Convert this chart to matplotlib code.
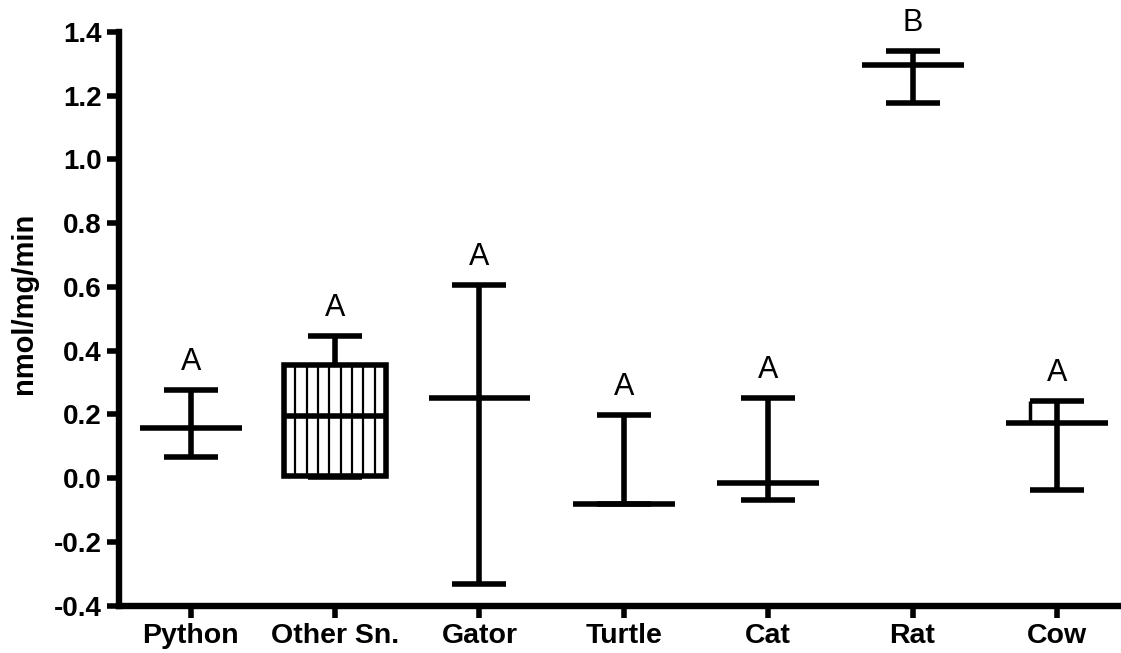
import numpy as np
import matplotlib
matplotlib.use("Agg")
import matplotlib.pyplot as plt

# ---- data ----
categories = ['Python', 'Other Sn.', 'Gator', 'Turtle', 'Cat', 'Rat', 'Cow']
means = [0.156, 0.195, 0.250, -0.080, -0.014, 1.297, 0.172]
upper = [0.276, 0.446, 0.606, 0.197, 0.250, 1.340, 0.241]
lower = [0.065, 0.003, -0.332, -0.080, -0.070, 1.176, -0.039]
letters = ['A', 'A', 'A', 'A', 'A', 'B', 'A']
box_category = 'Other Sn.'
box_bottom = 0.005
box_top = 0.355
yticks = [-0.4, -0.2, 0.0, 0.2, 0.4, 0.6, 0.8, 1.0, 1.2, 1.4]
ylabel = 'nmol/mg/min'

plt.rcParams['font.family'] = ['Liberation Sans', 'DejaVu Sans']

W, H = 1121, 653
fig = plt.figure(figsize=(W / 100, H / 100), dpi=100)
ax = fig.add_axes([119 / W, 1 - 605.5 / H, (1119 - 119) / W, (605.5 - 32) / H])

lw = 4.0
spine_lw = 4.6
mean_w = 0.706
cap_w = 0.374
x = np.arange(len(categories))
bi = categories.index(box_category)

# box for Other Sn.
ax.bar(x[bi], box_top - box_bottom, bottom=box_bottom, width=mean_w,
       facecolor='white', edgecolor='black', linewidth=lw, zorder=2)
edges = np.linspace(x[bi] - mean_w / 2, x[bi] + mean_w / 2, 10)[1:-1]
ax.vlines(edges, box_bottom, box_top, colors='black', linewidth=1.6, zorder=2)

for i in range(len(categories)):
    if i == bi:
        ax.vlines(x[i], box_top, upper[i], colors='black', linewidth=lw, zorder=3)
    else:
        ax.vlines(x[i], lower[i], upper[i], colors='black', linewidth=lw, zorder=3)
    ax.hlines([lower[i], upper[i]], x[i] - cap_w / 2, x[i] + cap_w / 2,
              colors='black', linewidth=lw, zorder=3)
    ax.hlines(means[i], x[i] - mean_w / 2, x[i] + mean_w / 2,
              colors='black', linewidth=lw, zorder=4)
    ax.annotate(letters[i], (x[i], upper[i]), xytext=(0, 14.5),
                textcoords='offset points', ha='center', va='baseline',
                fontsize=22, color='black')

# small bracket artefact on Cow
ci = categories.index('Cow')
ax.vlines(x[ci] - cap_w / 2, means[ci], upper[ci], colors='black', linewidth=2.5, zorder=3)

ax.set_xlim(-0.497, 6.43)
ax.set_ylim(-0.4, 1.4)
ax.set_yticks(yticks)
ax.set_yticklabels([f'{v:.1f}' for v in yticks])
ax.set_xticks(x)
ax.set_xticklabels(categories)

for s in ['top', 'right']:
    ax.spines[s].set_visible(False)
for s in ['left', 'bottom']:
    ax.spines[s].set_linewidth(spine_lw)
    ax.spines[s].set_capstyle('projecting')

ax.tick_params(axis='both', direction='out', length=8.5, width=lw, pad=4)
for lab in ax.get_yticklabels():
    lab.set_fontsize(20)
    lab.set_fontweight('bold')
for lab in ax.get_xticklabels():
    lab.set_fontsize(20.5)
    lab.set_fontweight('bold')

ax.set_ylabel(ylabel, fontsize=21, fontweight='bold')
ax.yaxis.set_label_coords(-0.081, 0.527)

fig.savefig('out.png', dpi=100)
